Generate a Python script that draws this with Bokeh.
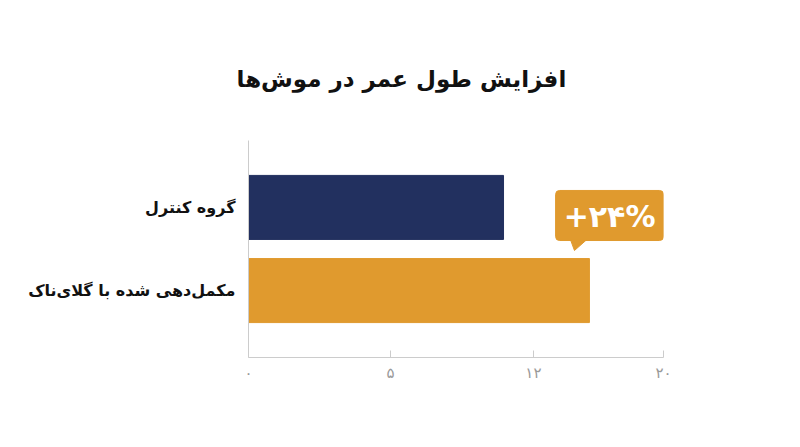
from bokeh.plotting import figure
from bokeh.models import Range1d, FactorRange, FixedTicker
from bokeh.core.properties import value
from bokeh.embed import file_html
from bokeh.resources import INLINE

title = "افزایش طول عمر در موش‌ها"
categories = ["مکمل‌دهی شده با گلای‌ناک", "گروه کنترل"]
values = [16.43, 12.29]
colors = ["#E09A2E", "#22305F"]
tick_positions = [0, 6.84, 13.73, 20]
tick_labels = ["۰", "۵", "۱۲", "۲۰"]
callout_text = "+۲۴%"

FONT = "DejaVu Sans"

p = figure(width=800, height=447, output_backend="svg", toolbar_location=None,
           x_range=Range1d(0, 20),
           y_range=FactorRange(factors=categories, range_padding=0.305,
                               range_padding_units="absolute"),
           min_border_left=248, min_border_right=137,
           min_border_top=140, min_border_bottom=90)
p.outline_line_color = None
p.grid.visible = False
p.background_fill_color = "white"
p.border_fill_color = "white"

p.title.text = title
p.title.align = "left"
p.title.offset = -12
p.title.standoff = 98
p.title.text_font = FONT
p.title.text_font_style = "bold"
p.title.text_font_size = "23px"
p.title.text_color = "#111111"

p.hbar(y=categories, right=values, left=0, height=0.77, color=colors)

# callout box
ox = max(values)
p.quad(left=[ox - 1.63], right=[20], top=[1.704], bottom=[1.102],
       color=colors[0], border_radius=4)
p.patch(x=[ox - 0.91, ox - 0.14, ox - 0.72], y=[1.11, 1.11, 0.982],
        color=colors[0])
p.text(x=[(ox - 1.63 + 20) / 2], y=[1.391], text=[callout_text],
       text_align="center", text_baseline="middle", text_color="white",
       text_font=value(FONT), text_font_style="bold", text_font_size="30px")

xa = p.xaxis[0]
xa.ticker = FixedTicker(ticks=tick_positions)
xa.major_label_overrides = {t: l for t, l in zip(tick_positions, tick_labels)}
xa.axis_line_color = "#cccccc"
xa.major_tick_line_color = "#cccccc"
xa.major_tick_in = 7
xa.major_tick_out = 0
xa.minor_tick_line_color = None
xa.major_label_text_color = "#999999"
xa.major_label_text_font = FONT
xa.major_label_text_font_size = "15px"
xa.major_label_standoff = 6

ya = p.yaxis[0]
ya.axis_line_color = "#cccccc"
ya.major_tick_line_color = None
ya.minor_tick_line_color = None
ya.major_label_text_color = "#111111"
ya.major_label_text_font = FONT
ya.major_label_text_font_style = "bold"
ya.major_label_text_font_size = "16px"
ya.major_label_standoff = 7

open("out.html", "w").write(file_html(p, INLINE))
